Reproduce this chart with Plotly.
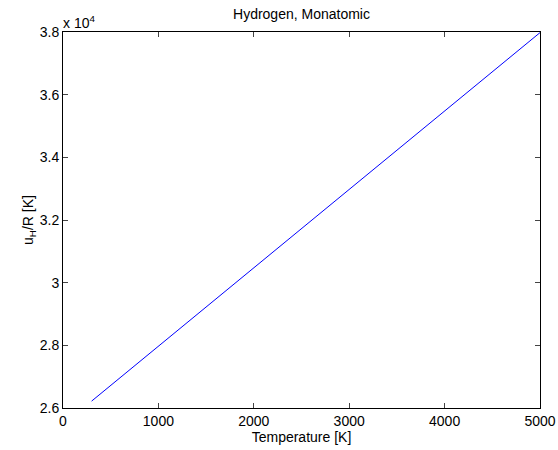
import plotly.graph_objects as go

temperature = [300, 1000, 2000, 3000, 4000, 5000]
u_over_R = [26220, 27970, 30470, 32970, 35470, 37980]

x_ticks = [0, 1000, 2000, 3000, 4000, 5000]
y_ticks = [26000, 28000, 30000, 32000, 34000, 36000, 38000]
y_ticktext = ["2.6", "2.8", "3", "3.2", "3.4", "3.6", "3.8"]

font = dict(family="Liberation Sans, Arial, Helvetica, sans-serif", size=14, color="black")

fig = go.Figure()
fig.add_trace(go.Scatter(x=temperature, y=u_over_R, mode="lines",
                         line=dict(color="#0000ff", width=1), showlegend=False))

fig.update_layout(
    width=558, height=450,
    margin=dict(l=63, r=18, t=32, b=42),
    paper_bgcolor="white", plot_bgcolor="white",
    font=font,
    title=dict(text="Hydrogen, Monatomic", x=(63 + 540) / 2 / 558, xanchor="center",
               y=1 - 14 / 450, yanchor="middle", font=font),
)
fig.update_xaxes(range=[0, 5000], tickvals=x_ticks, ticks="inside", ticklen=5,
                 showline=True, linecolor="black", linewidth=1, mirror="ticks",
                 showgrid=False, zeroline=False, automargin=False,
                 title=dict(text="Temperature [K]", standoff=0, font=font),
                 tickfont=font)
fig.update_yaxes(range=[26000, 38000], tickvals=y_ticks, ticktext=y_ticktext,
                 ticks="inside", ticklen=5,
                 showline=True, linecolor="black", linewidth=1, mirror="ticks",
                 showgrid=False, zeroline=False, automargin=False,
                 title=dict(text="u<sub>H</sub>/R [K]", standoff=2, font=font),
                 tickfont=font)
fig.add_annotation(text="x 10<sup>4</sup>", xref="paper", yref="paper",
                   x=0, y=1, xanchor="left", yanchor="bottom",
                   showarrow=False, font=font, xshift=-2, yshift=-1)

fig.write_html("out.html")
